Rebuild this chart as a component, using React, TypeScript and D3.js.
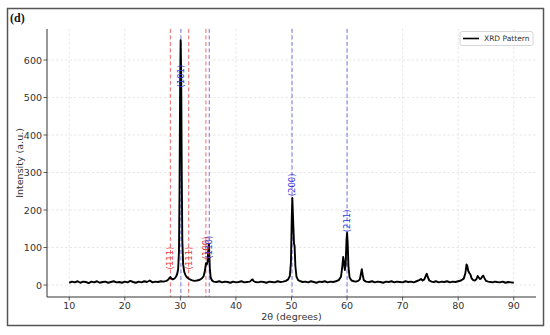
import React from "react";
import * as d3 from "d3";

const twoTheta = [
  10, 10.5, 11, 11.5, 12, 12.5, 13, 13.5, 14, 14.5, 15, 15.5, 16, 16.5, 17, 17.5, 18, 18.5, 19, 19.5,
  20, 20.5, 21, 21.5, 22, 22.5, 23, 23.5, 24, 24.5, 25, 25.5, 26, 26.5, 27, 27.5,
  27.8, 28.0, 28.2, 28.4, 28.6, 28.8, 29.0, 29.2, 29.4, 29.6, 29.75, 29.85, 29.95, 30.05, 30.15, 30.25, 30.35, 30.5, 30.7, 30.9,
  31.1, 31.3, 31.6, 32.0, 32.5, 33.0, 33.5, 33.9, 34.2, 34.45, 34.6, 34.75, 34.9, 35.05, 35.15, 35.3, 35.45, 35.7,
  36, 36.5, 37, 37.5, 38, 38.5, 39, 39.5, 40, 40.5, 41, 41.5, 42, 42.5, 42.8, 43.0, 43.2, 43.5, 44, 44.5,
  45, 45.5, 46, 46.5, 47, 47.5, 48, 48.5, 49, 49.4, 49.7, 49.9, 50.05, 50.15, 50.3, 50.45, 50.55, 50.7, 50.9,
  51.2, 51.6, 52, 52.5, 53, 53.5, 54, 54.5, 55, 55.5, 56, 56.5, 57, 57.5, 58, 58.5, 58.9, 59.15, 59.3, 59.45,
  59.6, 59.75, 59.9, 60.0, 60.1, 60.25, 60.45, 60.8, 61.2, 61.6, 62, 62.3, 62.5, 62.65, 62.8, 63.0, 63.4,
  64, 64.5, 65, 65.5, 66, 66.5, 67, 67.5, 68, 68.5, 69, 69.5, 70, 70.5, 71, 71.5, 72, 72.5, 73.0, 73.3, 73.6,
  73.9, 74.2, 74.35, 74.5, 74.8, 75.2, 75.6, 76, 76.5, 77, 77.5, 78, 78.5, 79, 79.5, 80, 80.5, 81.0, 81.3,
  81.5, 81.65, 81.8, 82.0, 82.2, 82.4, 82.7, 83.0, 83.3, 83.5, 83.7, 83.9, 84.1, 84.3, 84.5, 84.7, 85.0,
  85.4, 85.8, 86.2, 86.6, 87, 87.5, 88, 88.5, 89, 89.5, 90,
];

const intensity = [
  6, 9, 7, 10, 6, 9, 8, 5, 9, 7, 10, 6, 8, 9, 6, 8, 10, 7, 8, 6,
  9, 7, 11, 8, 6, 9, 7, 10, 8, 12, 7, 9, 8, 10, 9, 11,
  14, 18, 21, 17, 15, 16, 18, 22, 28, 42, 90, 250, 520, 653, 560, 300, 120, 55, 35, 27,
  22, 19, 16, 13, 11, 12, 14, 18, 24, 40, 58, 55, 62, 100, 108, 45, 20, 12,
  9, 8, 10, 7, 9, 8, 6, 9, 7, 8, 10, 7, 8, 9, 13, 15, 10, 8, 7, 9,
  8, 6, 9, 8, 7, 10, 8, 9, 11, 15, 24, 60, 180, 232, 170, 110, 105, 50, 22,
  13, 10, 8, 9, 7, 10, 8, 6, 9, 8, 10, 7, 9, 8, 10, 13, 22, 50, 75, 60,
  40, 55, 120, 139, 115, 50, 20, 12, 10, 9, 11, 15, 30, 42, 28, 13, 9,
  8, 10, 7, 9, 8, 6, 9, 8, 10, 7, 9, 8, 7, 10, 8, 9, 7, 10, 13, 16, 12,
  15, 26, 30, 22, 12, 9, 8, 10, 7, 9, 8, 10, 7, 9, 8, 10, 12, 17, 32,
  55, 50, 38, 32, 28, 18, 13, 12, 16, 24, 20, 16, 17, 22, 25, 19, 11,
  9, 8, 7, 9, 8, 7, 9, 6, 8, 7, 6,
];

const refPositions = [28.2, 30.1, 31.5, 34.6, 35.2, 50.1, 60.0];
const refLabels = ["(111)", "(101)", "(111)", "(100)", "(110)", "(200)", "(211)"];
const refPhase = ["red", "blue", "red", "red", "blue", "blue", "blue"];
const refLabelY = [72, 557, 72, 99, 101, 267, 171];

const xTicks = [10, 20, 30, 40, 50, 60, 70, 80, 90];
const yTicks = [0, 100, 200, 300, 400, 500, 600];

const W = 550;
const H = 335;
const L = 47;
const R = 536;
const T = 28.9;
const B = 297;

const lineColor: Record<string, string> = { red: "#ee6a6a", blue: "#7373e6" };
const textColor: Record<string, string> = { red: "#e23c3c", blue: "#3a3ad6" };

export default function App() {
  const x = d3.scaleLinear().domain([6, 94]).range([L, R]);
  const y = d3.scaleLinear().domain([-32, 683]).range([B, T]);
  const pts: [number, number][] = twoTheta.map((t, i) => [t, intensity[i]]);
  const line = d3
    .line<[number, number]>()
    .x((d) => x(d[0]))
    .y((d) => y(d[1]));
  const font = "DejaVu Sans, sans-serif";
  return (
    <svg
      width={W}
      height={H}
      style={{ position: "absolute", left: 0, top: 0, background: "#fff" }}
      fontFamily={font}
    >
      <rect x={0} y={0} width={W} height={H} fill="#fff" />
      <rect x={7.5} y={8.5} width={536} height={317} fill="none" stroke="#555" strokeWidth={1.5} />
      <text x={10} y={22} fontFamily="Liberation Serif, Times New Roman, serif" fontWeight="bold" fontSize={12} fill="#111">
        (d)
      </text>
      {/* grid */}
      {xTicks.map((t) => (
        <line key={"gx" + t} x1={x(t)} x2={x(t)} y1={T} y2={B} stroke="#d9d9d9" strokeWidth={0.6} strokeDasharray="2.5,2" />
      ))}
      {yTicks.map((t) => (
        <line key={"gy" + t} x1={L} x2={R} y1={y(t)} y2={y(t)} stroke="#d9d9d9" strokeWidth={0.6} strokeDasharray="2.5,2" />
      ))}
      {/* reference lines */}
      {refPositions.map((p, i) => (
        <line
          key={"rl" + i}
          x1={x(p)}
          x2={x(p)}
          y1={T}
          y2={B}
          stroke={lineColor[refPhase[i]]}
          strokeWidth={1}
          strokeDasharray="4,2.5"
        />
      ))}
      {/* pattern */}
      <path d={line(pts) || ""} fill="none" stroke="#000" strokeWidth={1.9} strokeLinejoin="round" />
      {/* labels */}
      {refPositions.map((p, i) => (
        <text
          key={"rt" + i}
          transform={`translate(${x(p)},${y(refLabelY[i])}) rotate(-90)`}
          textAnchor="middle"
          dominantBaseline="central"
          fontSize={8.5}
          fill={textColor[refPhase[i]]}
        >
          {refLabels[i]}
        </text>
      ))}
      {/* axes */}
      <line x1={L} x2={L} y1={T} y2={B} stroke="#333" strokeWidth={1} />
      <line x1={L} x2={R} y1={B} y2={B} stroke="#333" strokeWidth={1} />
      {yTicks.map((t) => (
        <g key={"yt" + t}>
          <line x1={L - 3.5} x2={L} y1={y(t)} y2={y(t)} stroke="#333" strokeWidth={0.8} />
          <text x={L - 5} y={y(t)} textAnchor="end" dominantBaseline="central" fontSize={9.5} fill="#333">
            {t}
          </text>
        </g>
      ))}
      {xTicks.map((t) => (
        <g key={"xt" + t}>
          <line x1={x(t)} x2={x(t)} y1={B} y2={B + 3.5} stroke="#333" strokeWidth={0.8} />
          <text x={x(t)} y={B + 5} textAnchor="middle" dominantBaseline="hanging" fontSize={9.5} fill="#333">
            {t}
          </text>
        </g>
      ))}
      <text x={(L + R) / 2} y={316} textAnchor="middle" dominantBaseline="central" fontSize={9.5} fill="#333">
        2θ (degrees)
      </text>
      <text
        transform={`translate(19,${(T + B) / 2}) rotate(-90)`}
        textAnchor="middle"
        dominantBaseline="central"
        fontSize={9.5}
        fill="#333"
      >
        Intensity (a.u.)
      </text>
      {/* legend */}
      <rect x={460} y={31.5} width={73} height={14} rx={2} fill="#fff" fillOpacity={0.85} stroke="#ccc" strokeWidth={0.8} />
      <line x1={463} x2={479} y1={38.5} y2={38.5} stroke="#000" strokeWidth={1.6} />
      <text x={484} y={38.8} dominantBaseline="central" fontSize={7.5} fill="#333">
        XRD Pattern
      </text>
    </svg>
  );
}
